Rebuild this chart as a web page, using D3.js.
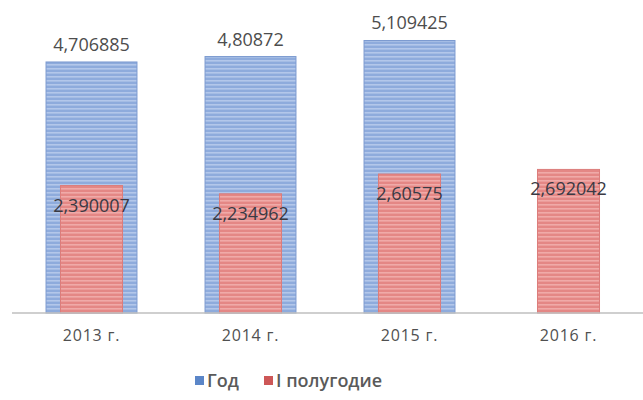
<!DOCTYPE html>
<html>
<head>
<meta charset="utf-8">
<script src="https://cdn.jsdelivr.net/npm/d3@7/dist/d3.min.js"></script>
<style>
  html, body { margin: 0; padding: 0; background: #fff; }
  svg { display: block; font-family: "Open Sans", "Noto Sans", sans-serif; }
</style>
</head>
<body>
<svg id="chart" width="643" height="400"></svg>
<script>
// Categories and series
const years = ["2013 г.", "2014 г.", "2015 г.", "2016 г."];
const yearValues = [4.706885, 4.80872, 5.109425, null];
const halfYearValues = [2.390007, 2.234962, 2.60575, 2.692042];
const yearLabels = ["4,706885", "4,80872", "5,109425", null];
const halfYearLabels = ["2,390007", "2,234962", "2,60575", "2,692042"];
const seriesNames = ["Год", "I полугодие"];

const svg = d3.select("#chart");
const W = 643, H = 400;
const baseY = 313;

const x = d3.scaleBand().domain(years).range([12, 648]).padding(0);
const y = d3.scaleLinear().domain([0, 6]).range([baseY, -7]);

// Horizontal stripe fills
const defs = svg.append("defs");
function stripes(id, base, light) {
  const p = defs.append("pattern")
    .attr("id", id).attr("patternUnits", "userSpaceOnUse")
    .attr("width", 8).attr("height", 4);
  p.append("rect").attr("width", 8).attr("height", 4).attr("fill", base);
  p.append("rect").attr("y", 0).attr("width", 8).attr("height", 1.6).attr("fill", light);
}
stripes("blueStripes", "#8eabdc", "#b3c7ea");
stripes("redStripes", "#e48785", "#f0aaa8");

const blueW = x.bandwidth() * 0.572;
const redW = x.bandwidth() * 0.39;
const cx = d => x(d) + x.bandwidth() / 2;

// Annual bars (behind)
const yearData = years.map((c, i) => ({ c, v: yearValues[i], label: yearLabels[i] })).filter(d => d.v != null);
svg.append("g").selectAll("rect").data(yearData).join("rect")
  .attr("x", d => cx(d.c) - blueW / 2)
  .attr("y", d => y(d.v))
  .attr("width", blueW)
  .attr("height", d => baseY - y(d.v))
  .attr("fill", "url(#blueStripes)")
  .attr("stroke", "#7d9bd0").attr("stroke-width", 1);

// Half-year bars (front)
const halfData = years.map((c, i) => ({ c, v: halfYearValues[i], label: halfYearLabels[i] }));
svg.append("g").selectAll("rect").data(halfData).join("rect")
  .attr("x", d => cx(d.c) - redW / 2)
  .attr("y", d => y(d.v))
  .attr("width", redW)
  .attr("height", d => baseY - y(d.v))
  .attr("fill", "url(#redStripes)")
  .attr("stroke", "#dc7d7b").attr("stroke-width", 1);

// Category axis line
svg.append("line")
  .attr("x1", 12).attr("x2", W).attr("y1", baseY).attr("y2", baseY)
  .attr("stroke", "#bfbfbf").attr("stroke-width", 1.5);

// Value labels
svg.append("g").selectAll("text").data(yearData).join("text")
  .attr("x", d => cx(d.c))
  .attr("y", d => y(d.v) - 11)
  .attr("text-anchor", "middle")
  .attr("font-size", 18)
  .attr("fill", "#4d4d4d")
  .text(d => d.label);

svg.append("g").selectAll("text").data(halfData).join("text")
  .attr("x", d => cx(d.c))
  .attr("y", d => y(d.v) + 26)
  .attr("text-anchor", "middle")
  .attr("font-size", 18)
  .attr("fill", "#3a3a44")
  .text(d => d.label);

// Category labels
svg.append("g").selectAll("text").data(years).join("text")
  .attr("x", d => cx(d))
  .attr("y", 341)
  .attr("text-anchor", "middle")
  .attr("font-size", 16)
  .attr("letter-spacing", 0.8)
  .attr("fill", "#505050")
  .text(d => d);

// Legend
const legend = svg.append("g");
const legendItems = [
  { name: seriesNames[0], color: "#5b86c8", x: 195 },
  { name: seriesNames[1], color: "#cd5757", x: 264 }
];
legendItems.forEach(it => {
  legend.append("rect").attr("x", it.x).attr("y", 376).attr("width", 9).attr("height", 9).attr("fill", it.color);
  legend.append("text").attr("x", it.x + 12).attr("y", 387)
    .attr("font-size", 18).attr("font-weight", 600).attr("fill", "#5a5a5a").text(it.name);
});
</script>
</body>
</html>
